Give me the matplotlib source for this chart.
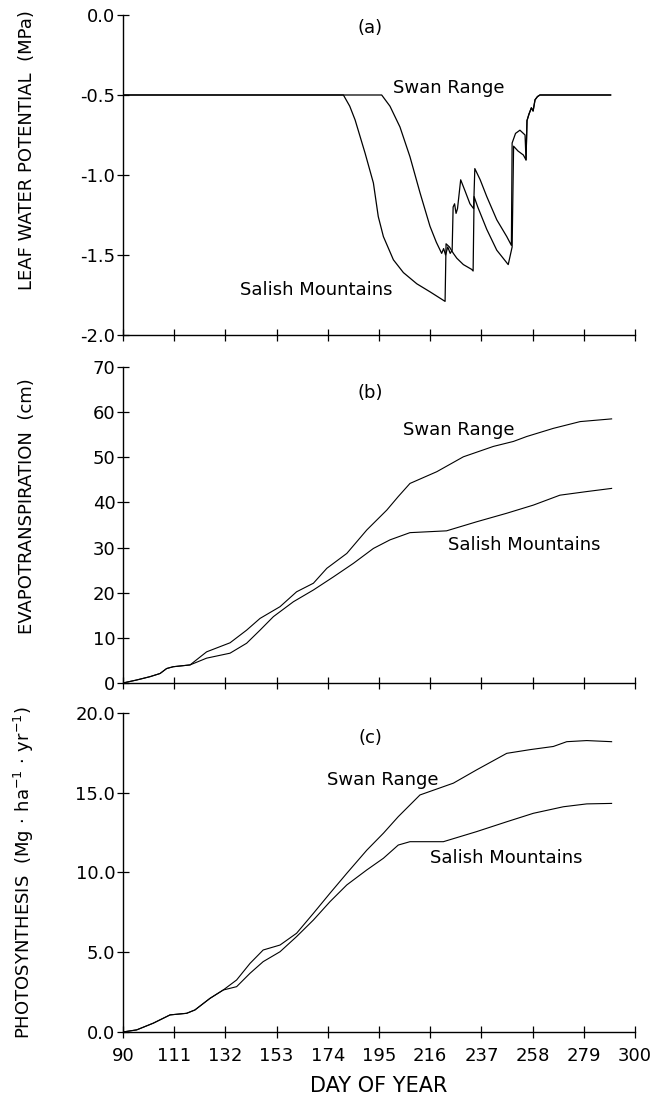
import matplotlib
matplotlib.use("Agg")
import matplotlib.pyplot as plt

plt.rcParams['font.family'] = ['DejaVu Sans']
plt.rcParams['axes.unicode_minus'] = False
plt.rcParams['mathtext.fontset'] = 'dejavusans'

# (a) leaf water potential, MPa
swan_a_day = [90, 196.1, 199.5, 203.6, 207.7, 211.8, 215.9, 218.5, 220.7, 221.5, 222.3, 223.2,
              224.2, 225.0, 225.4, 226.0, 226.6, 227.2, 228.5, 230.3, 232.3, 233.8, 234.3, 236.5,
              239.2, 243.3, 247.4, 249.3, 249.6, 251.0, 252.8, 254.9, 255.3, 255.7, 256.5, 257.5,
              258.2, 259.0, 260.0, 261.0, 290]
swan_a_val = [-0.5, -0.5, -0.57, -0.70, -0.886, -1.11, -1.32, -1.42, -1.49, -1.46, -1.50, -1.45,
              -1.49, -1.47, -1.20, -1.18, -1.24, -1.21, -1.03, -1.10, -1.18, -1.21, -0.96, -1.03,
              -1.135, -1.28, -1.385, -1.44, -0.80, -0.74, -0.72, -0.75, -0.906, -0.66, -0.62, -0.58,
              -0.60, -0.53, -0.51, -0.5, -0.5]
salish_a_day = [90, 180.4, 183.0, 185.2, 189.3, 192.7, 194.7, 196.8, 200.9, 205.0, 210.5, 215.9,
                219.0, 222.1, 222.5, 223.9, 225.5, 226.9, 229.6, 233.0, 233.6, 234.0, 235.5, 239.2,
                243.3, 248.0, 249.6, 250.2, 252.0, 254.2, 255.3, 255.7, 256.5, 257.5, 258.2, 259.0,
                260.0, 261.0, 290]
salish_a_val = [-0.5, -0.5, -0.57, -0.656, -0.864, -1.05, -1.26, -1.385, -1.53, -1.61, -1.68, -1.73,
                -1.76, -1.79, -1.43, -1.45, -1.49, -1.52, -1.56, -1.59, -1.60, -1.135, -1.20, -1.34,
                -1.47, -1.56, -1.45, -0.82, -0.85, -0.875, -0.906, -0.66, -0.62, -0.58, -0.60, -0.53,
                -0.51, -0.5, -0.5]

# (b) cumulative evapotranspiration, cm
swan_b_day = [90, 95.6, 101.1, 105.2, 107.9, 110.6, 117.5, 124.3, 133.9, 140.7, 146.2, 154.4, 161.2,
              168.1, 173.6, 181.8, 190.0, 198.2, 202.9, 207.7, 218.7, 229.6, 241.9, 250.1, 255.6,
              266.5, 277.5, 290.4]
swan_b_val = [0, 0.66, 1.4, 2.1, 3.2, 3.6, 4.0, 6.9, 8.9, 11.7, 14.3, 16.9, 20.2,
              22.1, 25.4, 28.7, 33.9, 38.3, 41.3, 44.2, 46.8, 50.1, 52.4, 53.5, 54.6,
              56.4, 57.9, 58.5]
salish_b_day = [90, 95.6, 101.1, 105.2, 107.9, 110.6, 117.5, 124.3, 133.9, 140.7, 146.2, 151.7, 159.9,
                168.1, 176.3, 184.5, 192.7, 199.5, 207.7, 222.7, 235.0, 247.4, 258.3, 269.2,
                280.2, 290.4]
salish_b_val = [0, 0.66, 1.4, 2.1, 3.2, 3.6, 4.0, 5.5, 6.6, 8.8, 11.7, 14.7, 18.0,
                20.6, 23.5, 26.5, 29.8, 31.7, 33.3, 33.7, 35.7, 37.6, 39.4, 41.6,
                42.4, 43.1]

# (c) cumulative photosynthesis, Mg ha-1 yr-1
swan_c_day = [90, 95.6, 102.4, 109.3, 116.1, 119.5, 125.7, 131.1, 136.6, 142.1, 147.5, 154.4,
              161.2, 168.1, 174.9, 181.8, 190.0, 196.8, 202.9, 211.8, 225.5, 235.0, 247.4,
              256.9, 266.5, 272.0, 280.2, 290.4]
swan_c_val = [0, 0.13, 0.55, 1.07, 1.17, 1.38, 2.11, 2.63, 3.26, 4.3, 5.14, 5.45,
              6.19, 7.44, 8.7, 9.95, 11.4, 12.46, 13.5, 14.86, 15.6, 16.43, 17.47,
              17.7, 17.9, 18.2, 18.27, 18.2]
salish_c_day = [90, 95.6, 102.4, 109.3, 116.1, 119.5, 125.7, 131.1, 136.6, 142.1, 147.5, 154.4,
                161.2, 168.1, 174.9, 181.8, 190.0, 196.8, 202.9, 207.7, 221.4, 235.0, 247.4,
                258.3, 270.6, 280.2, 290.4]
salish_c_val = [0, 0.13, 0.55, 1.07, 1.17, 1.38, 2.11, 2.63, 2.84, 3.68, 4.41, 5.03,
                5.98, 7.02, 8.17, 9.22, 10.16, 10.89, 11.72, 11.93, 11.93, 12.56, 13.18,
                13.71, 14.12, 14.3, 14.33]

day_ticks = [90, 111, 132, 153, 174, 195, 216, 237, 258, 279, 300]

fig = plt.figure(figsize=(6.56, 11.03), dpi=100)
ax_a = fig.add_axes([0.1875, 0.6963, 0.7805, 0.2901])
ax_b = fig.add_axes([0.1875, 0.3808, 0.7805, 0.2865])
ax_c = fig.add_axes([0.1875, 0.0644, 0.7805, 0.2892])

fs = 13
lw = 0.9

def style(ax):
    ax.spines['top'].set_visible(False)
    ax.spines['right'].set_visible(False)
    ax.spines['left'].set_linewidth(1.0)
    ax.spines['bottom'].set_linewidth(1.0)
    ax.set_xlim(90, 300)
    ax.set_xticks(day_ticks)
    ax.tick_params(direction='inout', length=9, width=0.9, labelsize=fs, pad=1)

ax_a.plot(swan_a_day, swan_a_val, color='black', lw=lw)
ax_a.plot(salish_a_day, salish_a_val, color='black', lw=lw)
style(ax_a)
ax_a.set_ylim(-2.0, 0.0)
ax_a.set_yticks([0.0, -0.5, -1.0, -1.5, -2.0])
ax_a.set_yticklabels(['0.0', '-0.5', '-1.0', '-1.5', '-2.0'])
ax_a.set_xticklabels([])
ax_a.set_ylabel('LEAF WATER POTENTIAL  (MPa)', fontsize=fs)
ax_a.yaxis.set_label_coords(-0.17, 0.578)
ax_a.text(191.3, -0.08, '(a)', fontsize=fs, ha='center', va='center')
ax_a.text(200.7, -0.455, 'Swan Range', fontsize=fs, ha='left', va='center')
ax_a.text(138, -1.72, 'Salish Mountains', fontsize=fs, ha='left', va='center')

ax_b.plot(swan_b_day, swan_b_val, color='black', lw=0.8)
ax_b.plot(salish_b_day, salish_b_val, color='black', lw=0.8)
style(ax_b)
ax_b.set_ylim(0, 70)
ax_b.set_yticks(range(0, 71, 10))
ax_b.set_xticklabels([])
ax_b.set_ylabel('EVAPOTRANSPIRATION  (cm)', fontsize=fs)
ax_b.yaxis.set_label_coords(-0.17, 0.56)
ax_b.text(191.3, 64.2, '(b)', fontsize=fs, ha='center', va='center')
ax_b.text(204.9, 56.0, 'Swan Range', fontsize=fs, ha='left', va='center')
ax_b.text(223.3, 30.6, 'Salish Mountains', fontsize=fs, ha='left', va='center')

ax_c.plot(swan_c_day, swan_c_val, color='black', lw=0.8)
ax_c.plot(salish_c_day, salish_c_val, color='black', lw=0.8)
style(ax_c)
ax_c.set_ylim(0, 20)
ax_c.set_yticks([0, 5, 10, 15, 20])
ax_c.set_yticklabels(['0.0', '5.0', '10.0', '15.0', '20.0'])
ax_c.set_xticklabels([str(d) for d in day_ticks])
ax_c.tick_params(axis='x', pad=6)
ax_c.set_ylabel(r'PHOTOSYNTHESIS  (Mg$\,\cdot\,$ha$^{-1}\,\cdot\,$yr$^{-1}$)', fontsize=fs)
ax_c.yaxis.set_label_coords(-0.17, 0.50)
ax_c.set_xlabel('DAY OF YEAR', fontsize=15, labelpad=8)
ax_c.text(191.3, 18.4, '(c)', fontsize=fs, ha='center', va='center')
ax_c.text(173.7, 15.8, 'Swan Range', fontsize=fs, ha='left', va='center')
ax_c.text(216, 10.9, 'Salish Mountains', fontsize=fs, ha='left', va='center')

fig.savefig('out.png', dpi=100)
